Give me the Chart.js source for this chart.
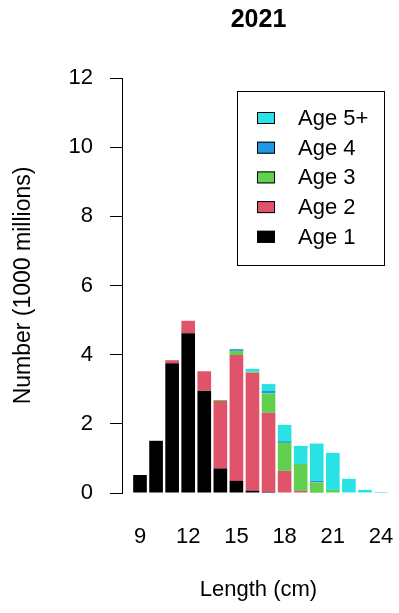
<!DOCTYPE html>
<html>
<head>
<meta charset="utf-8">
<script src="https://cdn.jsdelivr.net/npm/chart.js@4"></script>
<style>
  body { margin: 0; background: #fff; }
</style>
</head>
<body>
<canvas id="myChart" width="399" height="613"></canvas>
<script>
// length classes (cm) and numbers per age group (1000 millions)
const lengths = [9, 10, 11, 12, 13, 14, 15, 16, 17, 18, 19, 20, 21, 22, 23, 24];
const age1 = [0.52, 1.51, 3.75, 4.62, 2.96, 0.71, 0.35, 0.07, 0.03, 0, 0, 0, 0, 0, 0, 0];
const age2 = [0, 0, 0.09, 0.36, 0.56, 1.95, 3.64, 3.41, 2.29, 0.64, 0.06, 0.01, 0, 0, 0, 0];
const age3 = [0, 0, 0, 0, 0, 0.03, 0.12, 0.03, 0.56, 0.81, 0.78, 0.30, 0.09, 0, 0, 0];
const age4 = [0, 0, 0, 0, 0, 0, 0.05, 0.01, 0.07, 0.05, 0, 0.05, 0, 0, 0, 0];
const age5 = [0, 0, 0, 0, 0, 0, 0, 0.07, 0.20, 0.47, 0.52, 1.07, 1.07, 0.41, 0.09, 0.03];
const xTicks = [9, 12, 15, 18, 21, 24];
const yTicks = [0, 2, 4, 6, 8, 10, 12];

const FONT = '"Liberation Sans", Arial, sans-serif';
Chart.defaults.color = '#000';
Chart.defaults.font.family = FONT;

function pts(arr) {
  return lengths.map((l, i) => ({ x: l, y: arr[i] }));
}

// legend in a box, top right of the plot, oldest age first
const boxLegend = {
  id: 'boxLegend',
  afterDraw(chart) {
    const ctx = chart.ctx;
    ctx.save();
    ctx.strokeStyle = '#000';
    ctx.lineWidth = 1;
    ctx.strokeRect(237.5, 91.5, 147, 174);
    const items = chart.data.datasets.slice().reverse();
    ctx.font = '22px ' + FONT;
    ctx.textBaseline = 'middle';
    items.forEach((ds, i) => {
      const y = 118 + i * 29.7;
      ctx.fillStyle = ds.backgroundColor;
      ctx.fillRect(257, y - 6, 18, 12);
      ctx.strokeRect(257.5, y - 5.5, 17, 11);
      ctx.fillStyle = '#000';
      ctx.fillText(ds.label, 298, y + 1);
    });
    ctx.restore();
  }
};

var ctx = document.getElementById('myChart').getContext('2d');
var chart = new Chart(ctx, {
  type: 'bar',
  data: {
    datasets: [
      { label: 'Age 1', data: pts(age1), backgroundColor: '#000000' },
      { label: 'Age 2', data: pts(age2), backgroundColor: '#DF536B' },
      { label: 'Age 3', data: pts(age3), backgroundColor: '#61D04F' },
      { label: 'Age 4', data: pts(age4), backgroundColor: '#2297E6' },
      { label: 'Age 5+', data: pts(age5), backgroundColor: '#28E2E5' }
    ]
  },
  options: {
    responsive: false,
    animation: false,
    devicePixelRatio: 1,
    barPercentage: 0.85,
    categoryPercentage: 1,
    layout: { padding: { left: 0, right: 4, top: 0, bottom: 0 } },
    plugins: {
      legend: { display: false },
      tooltip: { enabled: false },
      title: {
        display: true,
        text: '2021',
        fullSize: false,
        font: { size: 25, weight: 'bold' },
        padding: { top: 5, bottom: 43 }
      }
    },
    scales: {
      x: {
        type: 'linear',
        offset: false,
        stacked: true,
        min: 7.88,
        max: 24.87,
        // hidden tick marks, their length just pushes the labels down
        grid: { display: false, drawTicks: true, tickLength: 31 },
        border: { display: false },
        afterBuildTicks: (s) => { s.ticks = xTicks.map(v => ({ value: v })); },
        afterFit: (s) => { s.height = 120; },
        ticks: { font: { size: 22 }, padding: 0, maxRotation: 0, autoSkip: false },
        title: { display: true, text: 'Length (cm)', font: { size: 22 }, padding: { top: 0, bottom: 10 } }
      },
      y: {
        stacked: true,
        min: 0,
        max: 12,
        afterBuildTicks: (s) => { s.ticks = yTicks.map(v => ({ value: v })); },
        afterFit: (s) => { s.width = 122; },
        grid: { drawOnChartArea: false, drawTicks: true, tickLength: 12, color: '#000' },
        border: { display: true, color: '#000', width: 1 },
        ticks: { font: { size: 22 }, padding: 17 },
        title: { display: true, text: 'Number (1000 millions)', font: { size: 23 }, padding: { top: 10, bottom: 0 } }
      }
    }
  },
  plugins: [boxLegend]
});
</script>
</body>
</html>
